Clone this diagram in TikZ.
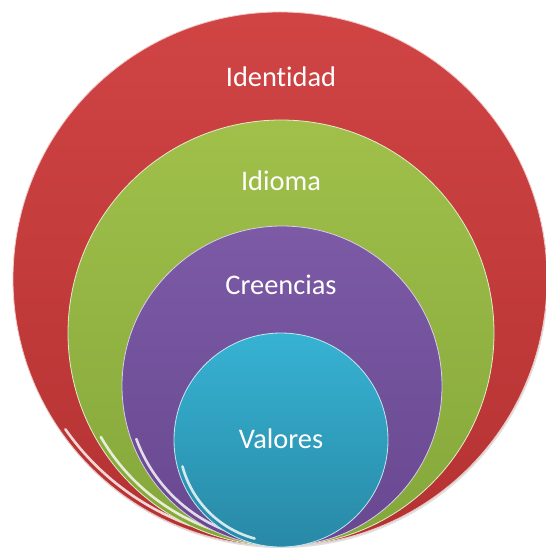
\documentclass[tikz,border=0pt]{standalone}
\usepackage{fontspec}
\setmainfont{Carlito}[Ligatures=NoCommon]
\definecolor{redT}{HTML}{D04444}
\definecolor{redB}{HTML}{B53232}
\definecolor{grnT}{HTML}{A0C04A}
\definecolor{grnB}{HTML}{84A73B}
\definecolor{purT}{HTML}{7C5AA6}
\definecolor{purB}{HTML}{684890}
\definecolor{cyaT}{HTML}{37B2D3}
\definecolor{cyaB}{HTML}{2889A6}
\tikzset{
  ring/.style={circle, inner sep=0pt, draw=white!70!#1T, line width=0.8bp,
    top color=#1T, bottom color=#1B},
  lbl/.style={anchor=base, text=white, font=\fontsize{28.5}{34}\selectfont},
  gloss/.style={white, line width=2.6bp, opacity=0.8, line cap=round},
}
\begin{document}
\begin{tikzpicture}[x=1bp,y=-1bp]
\useasboundingbox (0,0) rectangle (546,548);
% shadow
\fill[black!25, opacity=0.5] (281,281) circle[radius=267bp];
\node[ring=red, minimum size=534bp] (red) at (280,279) {};
\draw[gloss] (red.center) ++(215:262bp) arc[start angle=215, end angle=250, radius=262bp];
\node[ring=grn, minimum size=426bp] (grn) at (281,333) {};
\draw[gloss] (grn.center) ++(210:208bp) arc[start angle=210, end angle=252, radius=208bp];
\node[ring=pur, minimum size=320bp] (pur) at (282,386) {};
\draw[gloss] (pur.center) ++(200:155bp) arc[start angle=200, end angle=252, radius=155bp];
\node[ring=cya, minimum size=214bp] (cya) at (281,440) {};
\draw[gloss] (cya.center) ++(195:102bp) arc[start angle=195, end angle=255, radius=102bp];
\node[lbl] (t1) at (281,87) {Identidad};
\node[lbl] (t2) at (281,191) {Idioma};
\node[lbl] (t3) at (281,294) {Creencias};
\node[lbl] (t4) at (281,448) {Valores};
\end{tikzpicture}
\end{document}
